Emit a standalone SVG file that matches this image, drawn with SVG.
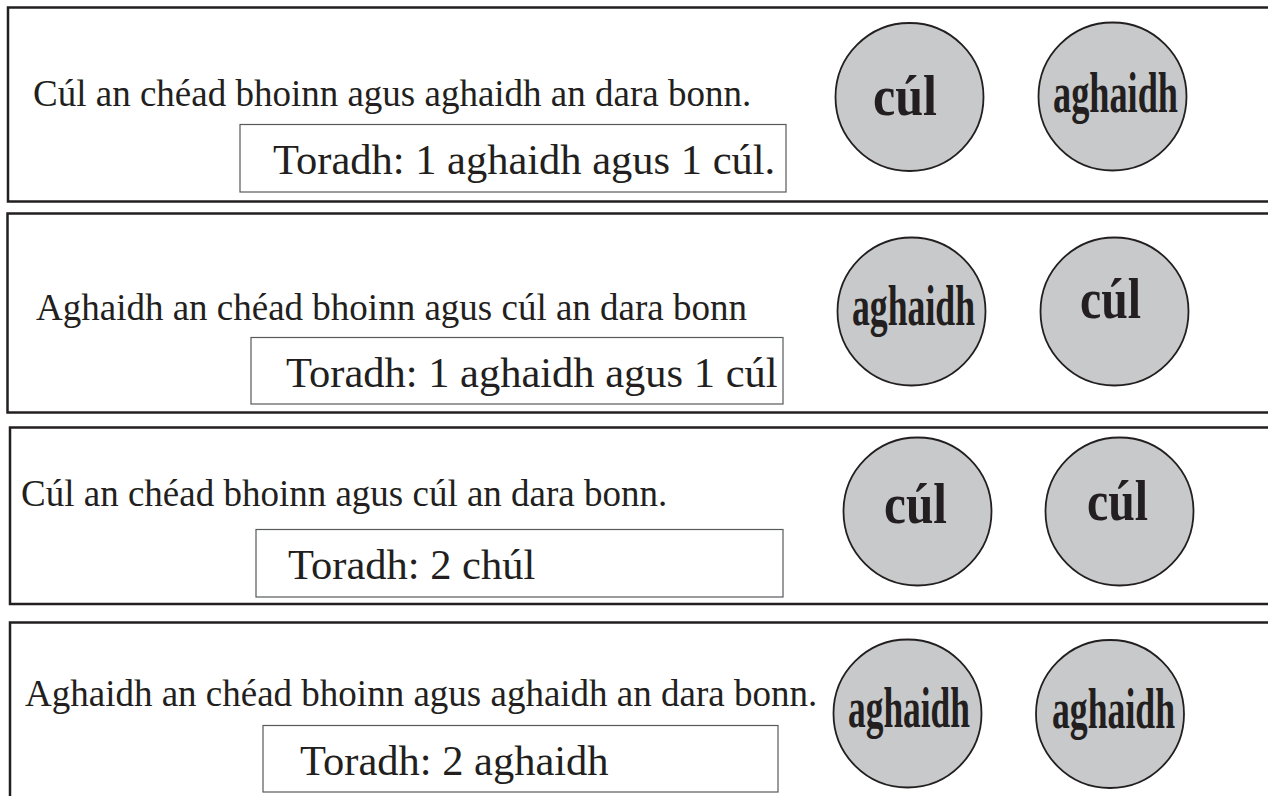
<svg xmlns="http://www.w3.org/2000/svg" width="1268" height="796" viewBox="0 0 1268 796">
<style>
.row{fill:#fff;stroke:#231f20;stroke-width:2.5}
.res{fill:none;stroke:#58595b;stroke-width:1.2}
.coin{fill:#c8c9cb;stroke:#231f20;stroke-width:1.8}
.t{font-family:"Liberation Serif","Times New Roman",serif;fill:#231f20;font-size:37px}
.r{font-family:"Liberation Serif","Times New Roman",serif;fill:#231f20;font-size:42.5px}
.c{font-family:"Liberation Serif","Times New Roman",serif;fill:#231f20;font-size:56px;font-weight:bold}
</style>
<rect width="1268" height="796" fill="#fff"/>
<g id="row1">
<rect class="row" x="8" y="7.5" width="1280" height="194"/>
<text class="t" x="33" y="106">Cúl an chéad bhoinn agus aghaidh an dara bonn.</text>
<rect class="res" x="240" y="124.5" width="546" height="67.5"/>
<text class="r" x="273" y="174">Toradh: 1 aghaidh agus 1 cúl.</text>
<g id="row1-coin1"><circle class="coin" cx="909.5" cy="97" r="74"/><text class="c" x="873" y="115" textLength="64" lengthAdjust="spacingAndGlyphs">cúl</text></g>
<g id="row1-coin2"><circle class="coin" cx="1112.5" cy="96.5" r="74"/><text class="c" x="1053" y="112" textLength="125" lengthAdjust="spacingAndGlyphs">aghaidh</text></g>
</g>
<g id="row2">
<rect class="row" x="7.5" y="213.5" width="1280" height="199"/>
<text class="t" x="36" y="320">Aghaidh an chéad bhoinn agus cúl an dara bonn</text>
<rect class="res" x="251" y="337.5" width="532" height="66.5"/>
<text class="r" x="286" y="387">Toradh: 1 aghaidh agus 1 cúl</text>
<g id="row2-coin1"><circle class="coin" cx="911.5" cy="311.5" r="74"/><text class="c" x="852" y="325" textLength="123" lengthAdjust="spacingAndGlyphs">aghaidh</text></g>
<g id="row2-coin2"><circle class="coin" cx="1114.5" cy="311.5" r="74"/><text class="c" x="1080" y="318" textLength="61" lengthAdjust="spacingAndGlyphs">cúl</text></g>
</g>
<g id="row3">
<rect class="row" x="10" y="427.5" width="1280" height="176.5"/>
<text class="t" x="21" y="506">Cúl an chéad bhoinn agus cúl an dara bonn.</text>
<rect class="res" x="256" y="529.5" width="527" height="67.5"/>
<text class="r" x="288" y="579">Toradh: 2 chúl</text>
<g id="row3-coin1"><circle class="coin" cx="917.5" cy="511.5" r="74"/><text class="c" x="884" y="523" textLength="63" lengthAdjust="spacingAndGlyphs">cúl</text></g>
<g id="row3-coin2"><circle class="coin" cx="1119.5" cy="511.5" r="74"/><text class="c" x="1087" y="520" textLength="61" lengthAdjust="spacingAndGlyphs">cúl</text></g>
</g>
<g id="row4">
<rect class="row" x="10" y="622.5" width="1280" height="200"/>
<text class="t" x="25" y="706">Aghaidh an chéad bhoinn agus aghaidh an dara bonn.</text>
<rect class="res" x="263" y="725.5" width="515" height="66.5"/>
<text class="r" x="300" y="775">Toradh: 2 aghaidh</text>
<g id="row4-coin1"><circle class="coin" cx="907.5" cy="713.5" r="74"/><text class="c" x="848" y="727" textLength="122" lengthAdjust="spacingAndGlyphs">aghaidh</text></g>
<g id="row4-coin2"><circle class="coin" cx="1110" cy="714" r="74"/><text class="c" x="1052" y="728" textLength="123" lengthAdjust="spacingAndGlyphs">aghaidh</text></g>
</g>
<g id="connectors"/>
</svg>
